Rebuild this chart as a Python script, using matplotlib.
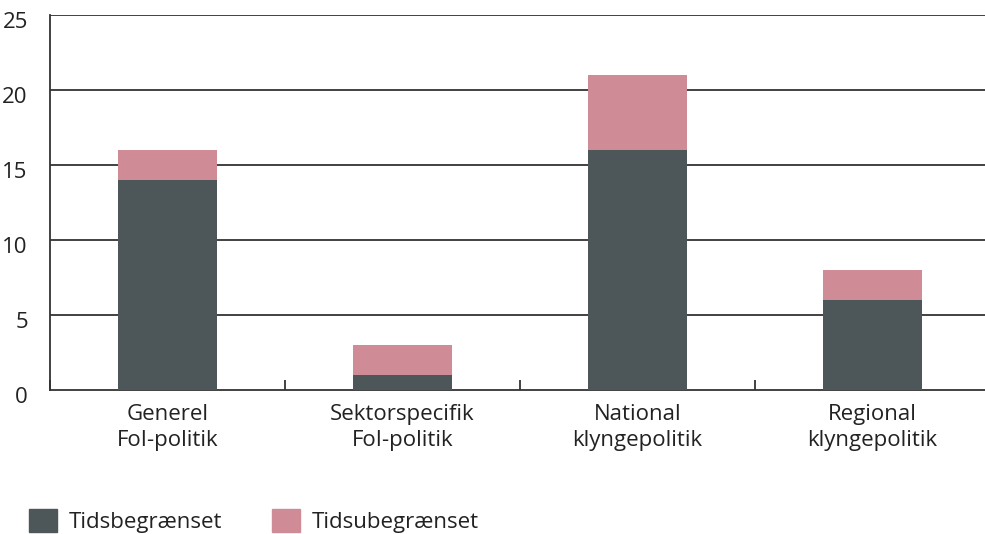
import matplotlib.pyplot as plt
import matplotlib.transforms as mtransforms
from matplotlib.patches import Patch

plt.rcParams['font.family'] = ['Open Sans', 'DejaVu Sans']

categories = ['Generel\nFoI-politik', 'Sektorspecifik\nFoI-politik',
              'National\nklyngepolitik', 'Regional\nklyngepolitik']
tidsbegraenset = [14, 1, 16, 6]
tidsubegraenset = [2, 2, 5, 2]
yticks = [0, 5, 10, 15, 20, 25]

dark = '#4d5658'
pink = '#cf8c97'
line = '#333333'
fs = 16

fig = plt.figure(figsize=(9.85, 5.34), dpi=100)
ax = fig.add_axes([50 / 985, 1 - 390 / 534, 940 / 985, 375 / 534])

x = range(len(categories))
ax.bar(x, tidsbegraenset, width=0.42, color=dark, zorder=3)
ax.bar(x, tidsubegraenset, width=0.42, bottom=tidsbegraenset, color=pink, zorder=3)

ax.set_xlim(-0.5, len(categories) - 0.5)
ax.set_ylim(0, 25)

for y in yticks[1:]:
    ax.axhline(y, color=line, lw=1.3, zorder=1)

for s in ['top', 'right']:
    ax.spines[s].set_visible(False)
ax.spines['left'].set_color(line)
ax.spines['bottom'].set_color(line)
ax.spines['left'].set_linewidth(1.3)
ax.spines['bottom'].set_linewidth(1.3)

ax.set_yticks(yticks)
ax.set_yticklabels([str(v) for v in yticks], fontsize=fs, color='#222222')
ax.tick_params(axis='y', length=0, pad=16)
off = mtransforms.ScaledTranslation(0, -5 / 100, fig.dpi_scale_trans)
for lab in ax.get_yticklabels():
    lab.set_transform(lab.get_transform() + off)

ax.set_xticks([i + 0.5 for i in range(-1, len(categories))], minor=False)
ax.set_xticklabels([])
ax.tick_params(axis='x', direction='in', length=7, width=1.3, color=line)
ax.set_xticks(list(x), minor=True)
ax.set_xticklabels(categories, minor=True, fontsize=fs, color='#222222', linespacing=1.32)
ax.tick_params(axis='x', which='minor', length=0, pad=10)

handles = [Patch(color=dark, label='Tidsbegrænset'),
           Patch(color=pink, label='Tidsubegrænset')]
fig.legend(handles=handles, loc='lower left', bbox_to_anchor=(9 / 985, -19 / 534),
           ncol=2, frameon=False, fontsize=fs, handlelength=1.26, handleheight=1.26,
           handletextpad=0.55, columnspacing=2.2, labelcolor='#222222')

fig.savefig('out.png', dpi=100)
